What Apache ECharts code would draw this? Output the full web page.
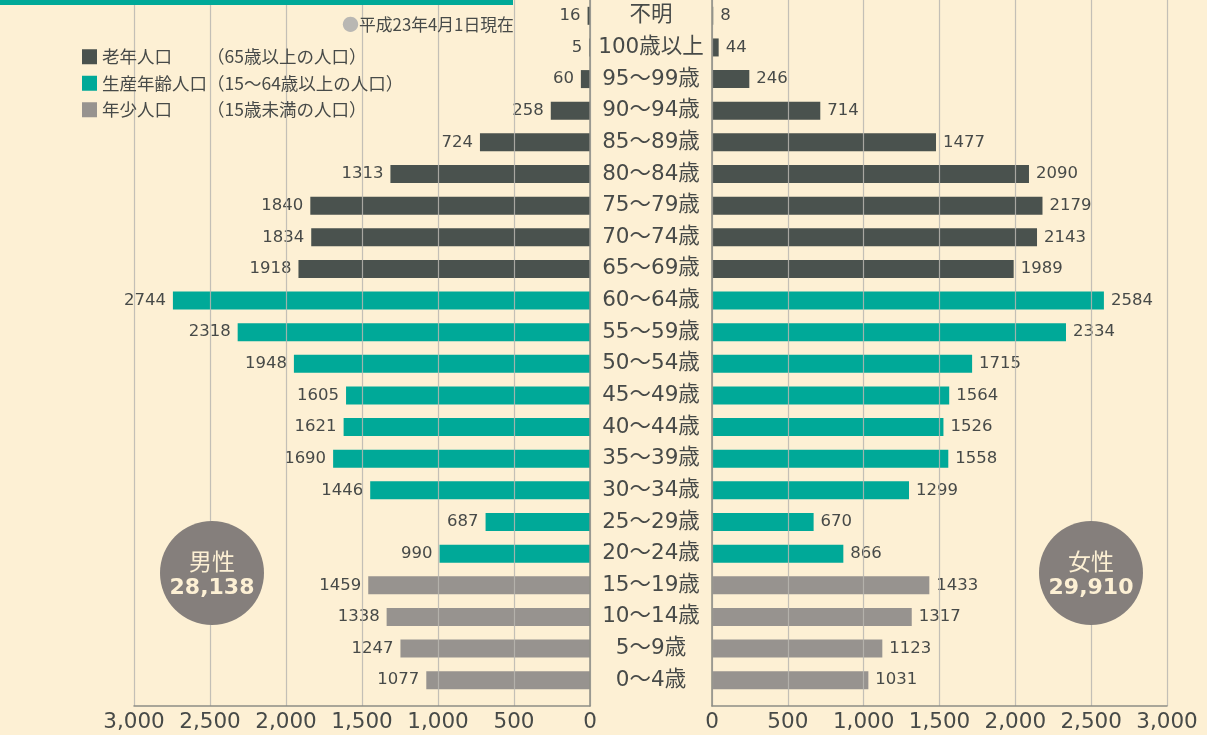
<!DOCTYPE html>
<html><head><meta charset="utf-8">
<script src="https://cdn.jsdelivr.net/npm/echarts@6/dist/echarts.min.js"></script>
<style>html,body{margin:0;padding:0;background:#fdf0d4;}#c{width:1207px;height:735px;}</style>
</head><body><div id="c"></div>
<script>
const categories = ['不明','100歳以上','95～99歳','90～94歳','85～89歳','80～84歳','75～79歳','70～74歳','65～69歳','60～64歳','55～59歳','50～54歳','45～49歳','40～44歳','35～39歳','30～34歳','25～29歳','20～24歳','15～19歳','10～14歳','5～9歳','0～4歳'];
const male =   [16,5,60,258,724,1313,1840,1834,1918,2744,2318,1948,1605,1621,1690,1446,687,990,1459,1338,1247,1077];
const female = [8,44,246,714,1477,2090,2179,2143,1989,2584,2334,1715,1564,1526,1558,1299,670,866,1433,1317,1123,1031];
// group of each row: 0 = 老年, 1 = 生産年齢, 2 = 年少
const group =  [0,0,0,0,0,0,0,0,0,1,1,1,1,1,1,1,1,1,2,2,2,2];
const groupNames = ['老年人口','生産年齢人口','年少人口'];
const groupNotes = ['（65歳以上の人口）','（15～64歳以上の人口）','（15歳未満の人口）'];
const groupColors = ['#4a524e','#00a998','#97938f'];
const xTicks = {min:0, max:3000, interval:500};
const totals = {male:'28,138', female:'29,910'};
const note = '平成23年4月1日現在';

const FONT = '"Noto Sans CJK JP", "Noto Sans", sans-serif';
const NUMFONT = '"DejaVu Sans", "Noto Sans CJK JP", sans-serif';
const txt = '#474a48';
const chart = echarts.init(document.getElementById('c'));

function pick(vals, g){ return vals.map((v,i)=> group[i]===g ? v : null); }

const series = [];
groupNames.forEach((n,g)=>{
  series.push({name:n, type:'bar', xAxisIndex:0, yAxisIndex:0, stack:'L', barWidth:18,
    data:pick(male,g), itemStyle:{color:groupColors[g]}, z:2,
    label:{show:true, position:'left', distance:7, color:txt, fontSize:16.5, fontFamily:NUMFONT}});
  series.push({name:n, type:'bar', xAxisIndex:2, yAxisIndex:2, stack:'R', barWidth:18,
    data:pick(female,g), itemStyle:{color:groupColors[g]}, z:2,
    label:{show:true, position:'right', distance:7, color:txt, fontSize:16.5, fontFamily:NUMFONT}});
});

const axisLbl = {color:txt, fontSize:21.5, fontFamily:NUMFONT, margin:6,
  formatter:v=>v.toLocaleString('en-US')};

chart.setOption({
  backgroundColor:'#fdf0d4',
  animation:false,
  title:{left:342, top:16, padding:0, text:'{c|●}{t|'+note+'}',
    textStyle:{fontWeight:'normal', rich:{c:{color:'#b9b7b3', fontSize:17, fontFamily:FONT, fontWeight:'normal'},
                     t:{color:txt, fontSize:16.8, fontFamily:FONT, fontWeight:'normal'}}}},
  legend:{left:82, top:48, padding:0, orient:'vertical', itemWidth:15, itemHeight:15, itemGap:9,
    icon:'rect', selectedMode:false, data:groupNames,
    formatter:n=>'{a|'+n+'}{b|'+groupNotes[groupNames.indexOf(n)]+'}',
    textStyle:{color:txt, fontFamily:FONT, fontSize:17.5,
      rich:{a:{width:105, fontSize:17.5, color:txt, fontFamily:FONT},
            b:{fontSize:17.5, color:txt, fontFamily:FONT}}}},
  grid:[
    {left:134, right:617, bottom:39, height:700},
    {left:134, right:617, top:0, bottom:29},
    {left:712, right:40, bottom:39, height:700},
    {left:712, right:40, top:0, bottom:29}
  ],
  xAxis:[
    {gridIndex:0, type:'value', inverse:true, min:xTicks.min, max:xTicks.max, show:false},
    {gridIndex:1, type:'value', inverse:true, min:xTicks.min, max:xTicks.max, interval:xTicks.interval, z:3,
      axisLine:{show:true, onZero:false, lineStyle:{color:'#8d8d85', width:1.5}}, axisTick:{show:false},
      splitLine:{show:true, lineStyle:{color:'rgba(185,182,176,0.85)', width:1.2}}, axisLabel:axisLbl},
    {gridIndex:2, type:'value', min:xTicks.min, max:xTicks.max, show:false},
    {gridIndex:3, type:'value', min:xTicks.min, max:xTicks.max, interval:xTicks.interval, z:3,
      axisLine:{show:true, onZero:false, lineStyle:{color:'#8d8d85', width:1.5}}, axisTick:{show:false},
      splitLine:{show:true, lineStyle:{color:'rgba(185,182,176,0.85)', width:1.2}}, axisLabel:axisLbl}
  ],
  yAxis:[
    {gridIndex:0, type:'category', inverse:true, data:categories, position:'right',
      axisLine:{show:false}, axisTick:{show:false},
      axisLabel:{align:'center', margin:61, color:txt, fontSize:21.5, fontFamily:NUMFONT}},
    {gridIndex:1, type:'value', min:0, max:1, position:'right', z:3,
      axisLine:{show:true, onZero:false, lineStyle:{color:'#8d8d85', width:1.5}},
      axisTick:{show:false}, axisLabel:{show:false}, splitLine:{show:false}},
    {gridIndex:2, type:'category', inverse:true, data:categories, show:false},
    {gridIndex:3, type:'value', min:0, max:1, position:'left', z:3,
      axisLine:{show:true, onZero:false, lineStyle:{color:'#8d8d85', width:1.5}},
      axisTick:{show:false}, axisLabel:{show:false}, splitLine:{show:false}}
  ],
  graphic:[
    {type:'rect', shape:{x:0, y:0, width:513, height:5}, style:{fill:'#00a998'}, z:10},
    {type:'circle', shape:{cx:212, cy:573, r:52}, style:{fill:'#857f7c'}, z:10},
    {type:'text', x:212, y:561, style:{text:'男性', fill:'#fdf0d4', fontSize:23, fontFamily:FONT, align:'center', verticalAlign:'middle'}, z:11},
    {type:'text', x:212, y:588, style:{text:totals.male, fill:'#fdf0d4', fontSize:22, fontWeight:'bold', fontFamily:'"DejaVu Sans", sans-serif', align:'center', verticalAlign:'middle'}, z:11},
    {type:'circle', shape:{cx:1091, cy:573, r:52}, style:{fill:'#857f7c'}, z:10},
    {type:'text', x:1091, y:561, style:{text:'女性', fill:'#fdf0d4', fontSize:23, fontFamily:FONT, align:'center', verticalAlign:'middle'}, z:11},
    {type:'text', x:1091, y:588, style:{text:totals.female, fill:'#fdf0d4', fontSize:22, fontWeight:'bold', fontFamily:'"DejaVu Sans", sans-serif', align:'center', verticalAlign:'middle'}, z:11}
  ],
  series:series
});
</script></body></html>
